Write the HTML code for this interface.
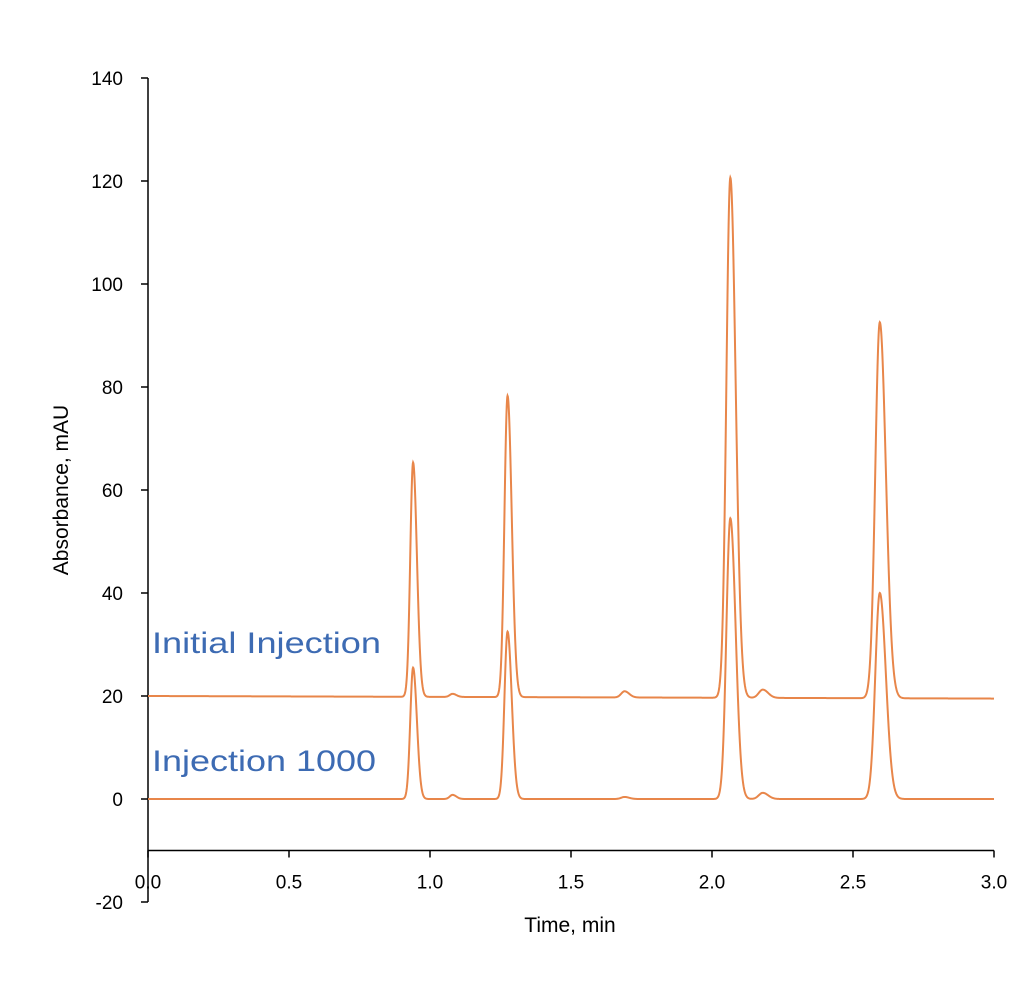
<!DOCTYPE html>
<html><head><meta charset="utf-8"><style>
html,body{margin:0;padding:0;background:#fff}
svg{display:block;font-family:"Liberation Sans",sans-serif}
</style></head><body>
<svg id="chart" width="1024" height="1005" viewBox="0 0 1024 1005">
<g id="axes"></g><g id="series"></g>
<text x="152" y="653" font-size="30" fill="#3d6bb3" textLength="229" lengthAdjust="spacingAndGlyphs">Initial Injection</text>
<text x="152" y="771" font-size="30" fill="#3d6bb3" textLength="224" lengthAdjust="spacingAndGlyphs">Injection 1000</text>
<text x="570" y="932" font-size="21" text-anchor="middle" fill="#000">Time, min</text>
<text transform="translate(68,490) rotate(-90)" font-size="21" text-anchor="middle" fill="#000">Absorbance, mAU</text>
</svg>
<script>
const yTicks=[-20,0,20,40,60,80,100,120,140];
const xTicks=["0.0","0.5","1.0","1.5","2.0","2.5","3.0"];
const peakTimes=[0.94,1.08,1.275,1.69,2.065,2.18,2.595];
const peakWidths=[0.010,0.010,0.011,0.012,0.014,0.014,0.016];
const initialHeights=[45.5,0.6,58.5,1.2,101,1.6,73];
const initialBaseline=[20,19.5];
const inj1000Heights=[25.5,0.8,32.5,0.4,54.5,1.2,40];
const inj1000Baseline=[0,0];
const NS="http://www.w3.org/2000/svg";
const x=v=>148+v*(994-148)/3;
const y=v=>799-v*(799-78)/140;
const axes=document.getElementById('axes');
function mk(tag,attrs,parent){const e=document.createElementNS(NS,tag);for(const k in attrs)e.setAttribute(k,attrs[k]);parent.appendChild(e);return e;}
let l=mk('line',{x1:148,y1:y(-20),x2:148,y2:y(140),stroke:'#000','stroke-width':1.5},axes);


l=mk('line',{x1:148,y1:y(-10),x2:994,y2:y(-10),stroke:'#000','stroke-width':1.5},axes);


yTicks.forEach(t=>{
 const tk=mk('line',{x1:141,y1:y(t),x2:148,y2:y(t),stroke:'#000','stroke-width':1.5},axes);
 
 
 const tx=mk('text',{x:123,y:y(t)+7,'font-size':19,'text-anchor':'end'},axes);
 tx.textContent=t;
 
 
});
xTicks.forEach(t=>{
 const v=parseFloat(t);
 const tk=mk('line',{x1:x(v),y1:y(-10),x2:x(v),y2:y(-10)+7,stroke:'#000','stroke-width':1.5},axes);
 
 
 const tx=mk('text',{x:x(v),y:y(-10)+38,'font-size':19,'text-anchor':'middle'},axes);
 tx.textContent=t;
 
 
});
function trace(heights,base){
 let d='';
 for(let i=0;i<=3000;i++){
  const t=i/1000;
  let v=base[0]+(base[1]-base[0])*t/3;
  for(let k=0;k<peakTimes.length;k++){
   const dt=t-peakTimes[k];
   const s=peakWidths[k]*(dt>0?1.35:1);
   v+=heights[k]*Math.exp(-dt*dt/(2*s*s));
  }
  d+=(i?'L':'M')+x(t).toFixed(2)+','+y(v).toFixed(2);
 }
 return d;
}
const ser=document.getElementById('series');
let p=mk('path',{d:trace(initialHeights,initialBaseline),fill:'none',stroke:'#e8864a','stroke-width':2},ser);


p=mk('path',{d:trace(inj1000Heights,inj1000Baseline),fill:'none',stroke:'#e8864a','stroke-width':2},ser);


</script>
</body></html>
